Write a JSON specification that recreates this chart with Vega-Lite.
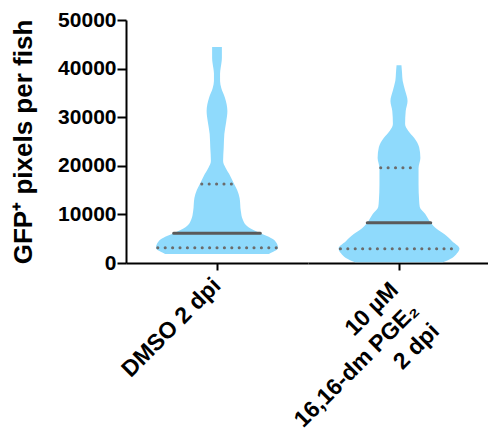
{
  "$schema": "https://vega.github.io/schema/vega-lite/v6.json",
  "padding": {"left": 10, "top": 9, "right": 0, "bottom": 0},
  "background": "white",
  "data": {
    "values": [
      {"group": "DMSO 2 dpi", "kind": "outline", "value": 1850, "lo": -0.85, "hi": 0.85},
      {"group": "DMSO 2 dpi", "kind": "outline", "value": 2500, "lo": -0.95, "hi": 0.95},
      {"group": "DMSO 2 dpi", "kind": "outline", "value": 3090, "lo": -1.0, "hi": 1.0},
      {"group": "DMSO 2 dpi", "kind": "outline", "value": 4000, "lo": -0.98, "hi": 0.98},
      {"group": "DMSO 2 dpi", "kind": "outline", "value": 4900, "lo": -0.92, "hi": 0.92},
      {"group": "DMSO 2 dpi", "kind": "outline", "value": 6170, "lo": -0.7, "hi": 0.7},
      {"group": "DMSO 2 dpi", "kind": "outline", "value": 7400, "lo": -0.51, "hi": 0.51},
      {"group": "DMSO 2 dpi", "kind": "outline", "value": 9000, "lo": -0.42, "hi": 0.42},
      {"group": "DMSO 2 dpi", "kind": "outline", "value": 10700, "lo": -0.39, "hi": 0.39},
      {"group": "DMSO 2 dpi", "kind": "outline", "value": 13400, "lo": -0.37, "hi": 0.37},
      {"group": "DMSO 2 dpi", "kind": "outline", "value": 15000, "lo": -0.33, "hi": 0.33},
      {"group": "DMSO 2 dpi", "kind": "outline", "value": 16260, "lo": -0.28, "hi": 0.28},
      {"group": "DMSO 2 dpi", "kind": "outline", "value": 18300, "lo": -0.2, "hi": 0.2},
      {"group": "DMSO 2 dpi", "kind": "outline", "value": 19600, "lo": -0.14, "hi": 0.14},
      {"group": "DMSO 2 dpi", "kind": "outline", "value": 21000, "lo": -0.1, "hi": 0.1},
      {"group": "DMSO 2 dpi", "kind": "outline", "value": 23700, "lo": -0.11, "hi": 0.11},
      {"group": "DMSO 2 dpi", "kind": "outline", "value": 26550, "lo": -0.12, "hi": 0.12},
      {"group": "DMSO 2 dpi", "kind": "outline", "value": 29000, "lo": -0.15, "hi": 0.15},
      {"group": "DMSO 2 dpi", "kind": "outline", "value": 31280, "lo": -0.17, "hi": 0.17},
      {"group": "DMSO 2 dpi", "kind": "outline", "value": 34000, "lo": -0.13, "hi": 0.13},
      {"group": "DMSO 2 dpi", "kind": "outline", "value": 36000, "lo": -0.07, "hi": 0.07},
      {"group": "DMSO 2 dpi", "kind": "outline", "value": 37460, "lo": -0.05, "hi": 0.05},
      {"group": "DMSO 2 dpi", "kind": "outline", "value": 39000, "lo": -0.05, "hi": 0.05},
      {"group": "DMSO 2 dpi", "kind": "outline", "value": 40100, "lo": -0.06, "hi": 0.06},
      {"group": "DMSO 2 dpi", "kind": "outline", "value": 42200, "lo": -0.08, "hi": 0.08},
      {"group": "DMSO 2 dpi", "kind": "outline", "value": 44450, "lo": -0.08, "hi": 0.08},
      {"group": "10 µM|16,16-dm PGE₂|2 dpi", "kind": "outline", "value": 150, "lo": -0.72, "hi": 0.72},
      {"group": "10 µM|16,16-dm PGE₂|2 dpi", "kind": "outline", "value": 1030, "lo": -0.87, "hi": 0.87},
      {"group": "10 µM|16,16-dm PGE₂|2 dpi", "kind": "outline", "value": 2000, "lo": -0.95, "hi": 0.95},
      {"group": "10 µM|16,16-dm PGE₂|2 dpi", "kind": "outline", "value": 3000, "lo": -0.99, "hi": 0.99},
      {"group": "10 µM|16,16-dm PGE₂|2 dpi", "kind": "outline", "value": 4500, "lo": -0.87, "hi": 0.87},
      {"group": "10 µM|16,16-dm PGE₂|2 dpi", "kind": "outline", "value": 5970, "lo": -0.74, "hi": 0.74},
      {"group": "10 µM|16,16-dm PGE₂|2 dpi", "kind": "outline", "value": 7000, "lo": -0.62, "hi": 0.62},
      {"group": "10 µM|16,16-dm PGE₂|2 dpi", "kind": "outline", "value": 8290, "lo": -0.52, "hi": 0.52},
      {"group": "10 µM|16,16-dm PGE₂|2 dpi", "kind": "outline", "value": 10080, "lo": -0.43, "hi": 0.43},
      {"group": "10 µM|16,16-dm PGE₂|2 dpi", "kind": "outline", "value": 11500, "lo": -0.34, "hi": 0.34},
      {"group": "10 µM|16,16-dm PGE₂|2 dpi", "kind": "outline", "value": 12760, "lo": -0.33, "hi": 0.33},
      {"group": "10 µM|16,16-dm PGE₂|2 dpi", "kind": "outline", "value": 16200, "lo": -0.32, "hi": 0.32},
      {"group": "10 µM|16,16-dm PGE₂|2 dpi", "kind": "outline", "value": 19500, "lo": -0.32, "hi": 0.32},
      {"group": "10 µM|16,16-dm PGE₂|2 dpi", "kind": "outline", "value": 21600, "lo": -0.35, "hi": 0.35},
      {"group": "10 µM|16,16-dm PGE₂|2 dpi", "kind": "outline", "value": 23800, "lo": -0.33, "hi": 0.33},
      {"group": "10 µM|16,16-dm PGE₂|2 dpi", "kind": "outline", "value": 25700, "lo": -0.25, "hi": 0.25},
      {"group": "10 µM|16,16-dm PGE₂|2 dpi", "kind": "outline", "value": 27200, "lo": -0.15, "hi": 0.15},
      {"group": "10 µM|16,16-dm PGE₂|2 dpi", "kind": "outline", "value": 28600, "lo": -0.1, "hi": 0.1},
      {"group": "10 µM|16,16-dm PGE₂|2 dpi", "kind": "outline", "value": 31300, "lo": -0.11, "hi": 0.11},
      {"group": "10 µM|16,16-dm PGE₂|2 dpi", "kind": "outline", "value": 33340, "lo": -0.14, "hi": 0.14},
      {"group": "10 µM|16,16-dm PGE₂|2 dpi", "kind": "outline", "value": 35500, "lo": -0.1, "hi": 0.1},
      {"group": "10 µM|16,16-dm PGE₂|2 dpi", "kind": "outline", "value": 37500, "lo": -0.06, "hi": 0.06},
      {"group": "10 µM|16,16-dm PGE₂|2 dpi", "kind": "outline", "value": 39100, "lo": -0.05, "hi": 0.05},
      {"group": "10 µM|16,16-dm PGE₂|2 dpi", "kind": "outline", "value": 40690, "lo": -0.04, "hi": 0.04},
      {"group": "DMSO 2 dpi", "kind": "quartile", "value": 3150, "lo": -0.97, "hi": 0.97},
      {"group": "DMSO 2 dpi", "kind": "median", "value": 6110, "lo": -0.71, "hi": 0.71},
      {"group": "DMSO 2 dpi", "kind": "quartile", "value": 16260, "lo": -0.25, "hi": 0.25},
      {"group": "10 µM|16,16-dm PGE₂|2 dpi", "kind": "quartile", "value": 2940, "lo": -0.96, "hi": 0.96},
      {"group": "10 µM|16,16-dm PGE₂|2 dpi", "kind": "median", "value": 8300, "lo": -0.52, "hi": 0.52},
      {"group": "10 µM|16,16-dm PGE₂|2 dpi", "kind": "quartile", "value": 19620, "lo": -0.3, "hi": 0.3}
    ]
  },
  "facet": {
    "column": {
      "field": "group",
      "type": "nominal",
      "sort": ["DMSO 2 dpi", "10 µM|16,16-dm PGE₂|2 dpi"],
      "title": null,
      "header": {
        "labelOrient": "bottom",
        "labelAngle": -45,
        "labelAlign": "right",
        "labelBaseline": "middle",
        "labelExpr": "test(/\\|/, datum.label) ? split(replace(datum.label, /\\|/g, '\u00a0\u200b|') + '\u00a0\u200b', '|') : datum.label",
        "labelFont": "Liberation Sans",
        "labelFontSize": 23,
        "labelFontWeight": "bold",
        "labelLineHeight": 29,
        "labelPadding": 9,
        "labelColor": "black",
        "labelLimit": 0
      }
    }
  },
  "spacing": 0,
  "spec": {
    "width": 182,
    "height": 243,
    "layer": [
      {
        "transform": [{"filter": "datum.kind == 'outline'"}],
        "mark": {"type": "area", "orient": "horizontal", "interpolate": "monotone", "color": "#8FDAFC"},
        "encoding": {
          "y": {
            "field": "value", "type": "quantitative",
            "scale": {"domain": [0, 50000], "nice": false},
            "axis": {"title": "GFP⁺ pixels per fish", "values": [0, 10000, 20000, 30000, 40000, 50000], "format": "d", "labelPadding": 1, "tickSize": 9, "titlePadding": 21}
          },
          "x": {
            "field": "lo", "type": "quantitative",
            "scale": {"domain": [-1.49, 1.49], "nice": false, "zero": false},
            "axis": {"title": " ", "titleFontSize": 2, "titlePadding": 0, "values": [0], "labels": false, "ticks": true, "tickSize": 7}
          },
          "x2": {"field": "hi"}
        }
      },
      {
        "transform": [{"filter": "datum.kind != 'outline'"}],
        "mark": {"type": "rule", "strokeWidth": 3, "strokeCap": "round"},
        "encoding": {
          "y": {"field": "value", "type": "quantitative"},
          "x": {"field": "lo", "type": "quantitative"},
          "x2": {"field": "hi"},
          "color": {"field": "kind", "type": "nominal", "scale": {"domain": ["median", "quartile"], "range": ["#5a5a5a", "#6b6b6b"]}, "legend": null},
          "strokeDash": {"field": "kind", "type": "nominal", "scale": {"domain": ["median", "quartile"], "range": [[1, 0], [0.1, 7.3]]}, "legend": null}
        }
      }
    ]
  },
  "config": {
    "view": {"stroke": null},
    "axis": {
      "domainColor": "black", "domainWidth": 2,
      "tickColor": "black", "tickWidth": 2, "tickSize": 6,
      "labelFont": "Liberation Sans", "labelFontWeight": "bold", "labelFontSize": 21, "labelColor": "black",
      "grid": false,
      "titleFont": "Liberation Sans", "titleFontWeight": "bold", "titleFontSize": 26, "titleColor": "black"
    }
  }
}
